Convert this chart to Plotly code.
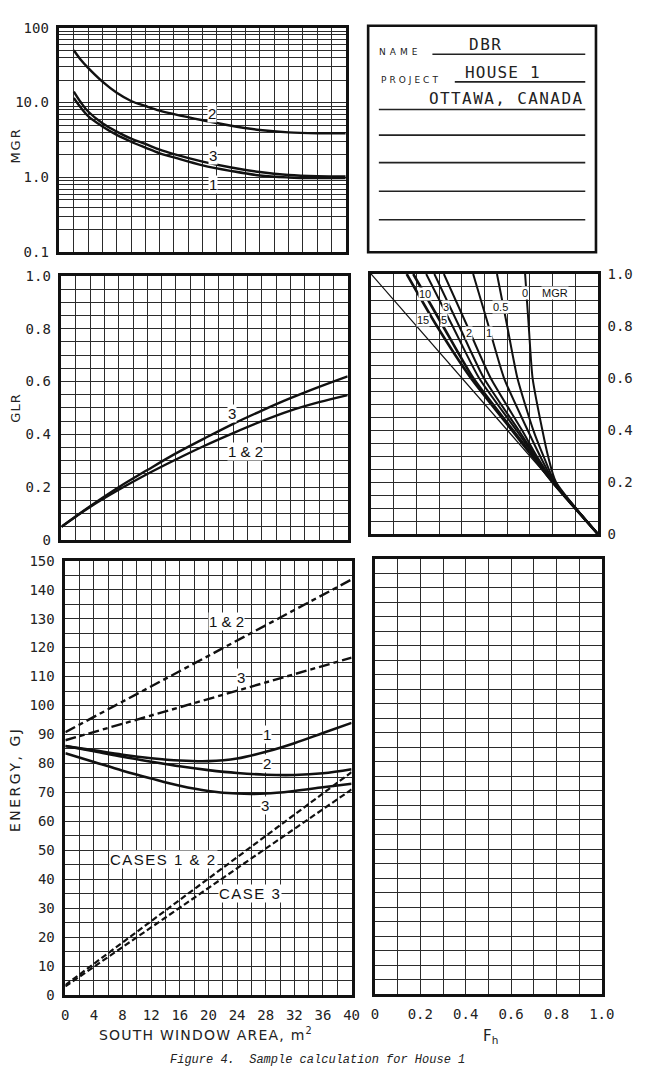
import math
import plotly.graph_objects as go

W, H = 645, 1079

# ---------------- data ----------------
# Top-left: MGR vs south window area (log scale)
area_mgr = [2, 3, 4, 6, 8, 10, 12, 14, 16, 20, 24, 28, 32, 36, 40]
mgr_case2 = [50, 37, 29, 19, 13.5, 10.5, 9.0, 7.8, 7.0, 5.8, 4.9, 4.3, 4.0, 3.9, 3.9]
mgr_case3 = [14, 10, 7.6, 5.3, 4.1, 3.3, 2.8, 2.35, 2.05, 1.63, 1.36, 1.18, 1.08, 1.04, 1.03]
mgr_case1 = [11.5, 8.5, 6.6, 4.8, 3.7, 3.0, 2.5, 2.1, 1.85, 1.45, 1.22, 1.06, 1.0, 0.98, 0.98]

# Middle-left: GLR vs south window area
area_glr = [0, 4, 8, 12, 16, 20, 24, 28, 32, 36, 40]
glr_case3 = [0.05, 0.128, 0.20, 0.265, 0.328, 0.385, 0.44, 0.49, 0.537, 0.58, 0.62]
glr_case12 = [0.05, 0.125, 0.19, 0.25, 0.305, 0.357, 0.405, 0.45, 0.49, 0.522, 0.549]

# Middle-right: Fh vs GLR for several MGR values
glr_levels = [1.0, 0.8, 0.6, 0.4, 0.3, 0.2, 0.0]
fh_by_mgr = {
    "15": [0.157, 0.29, 0.44, 0.62, 0.71, 0.80, 1.0],
    "10": [0.186, 0.317, 0.45, 0.625, 0.712, 0.80, 1.0],
    "5": [0.243, 0.359, 0.476, 0.64, 0.72, 0.802, 1.0],
    "3": [0.279, 0.388, 0.497, 0.65, 0.725, 0.803, 1.0],
    "2": [0.321, 0.424, 0.527, 0.665, 0.73, 0.805, 1.0],
    "1": [0.45, 0.518, 0.586, 0.69, 0.745, 0.807, 1.0],
    "0.5": [0.555, 0.60, 0.645, 0.715, 0.76, 0.81, 1.0],
    "0": [0.679, 0.695, 0.712, 0.755, 0.78, 0.815, 1.0],
}
diag_fh = [0.0, 1.0]
diag_glr = [1.0, 0.0]

# Bottom-left: energy vs south window area
area_e = [0, 4, 8, 12, 16, 20, 24, 28, 32, 36, 40]
energy_case1 = [86, 84.5, 83, 81.8, 81, 80.8, 81.7, 84, 87, 90.5, 94]
energy_case2 = [86, 84.2, 82.3, 80.6, 79, 77.7, 76.7, 76.1, 76, 76.6, 78]
energy_case3 = [83.5, 80.5, 77.5, 74.8, 72.3, 70.5, 69.6, 69.6, 70.5, 71.8, 73]
area_ends = [0, 40]
energy_nomass_12 = [90.8, 143.5]
energy_nomass_3 = [88, 116.5]
solar_cases_12 = [3.5, 77]
solar_case3 = [3.0, 71]

tick_glr = [0, 0.2, 0.4, 0.6, 0.8, 1.0]
tick_glr_text = ["0", "0.2", "0.4", "0.6", "0.8", "1.0"]
tick_mgr = [0.1, 1, 10, 100]
tick_mgr_text = ["0.1", "1.0", "10.0", "100"]

# ---------------- styling helpers ----------------
GRID = "#2b2b2b"
INK = "#111111"
TICKFONT = dict(family="DejaVu Sans Mono", size=14, color="#222")
LABFONT = dict(family="Liberation Sans", size=15, color=INK)


def px_x(p):
    return p / W


def px_y(p):
    return 1 - p / H


def ls(text, sp):
    return '<span style="letter-spacing:%.1fpx">%s</span>' % (sp, text)


base = dict(showgrid=True, gridcolor=GRID, gridwidth=1.2, zeroline=False,
            showline=True, linecolor=INK, linewidth=2.6, mirror=True,
            ticks="", tickfont=TICKFONT, ticklabelstandoff=5, fixedrange=True)

fig = go.Figure()

# top-left MGR
for yv in (mgr_case2, mgr_case3, mgr_case1):
    fig.add_trace(go.Scatter(x=area_mgr, y=yv, mode="lines", xaxis="x", yaxis="y",
                             line=dict(color=INK, width=2.4, shape="spline")))
# mid-left GLR
for yv in (glr_case3, glr_case12):
    fig.add_trace(go.Scatter(x=area_glr, y=yv, mode="lines", xaxis="x2", yaxis="y2",
                             line=dict(color=INK, width=2.4, shape="spline")))
# mid-right Fh fan
fig.add_trace(go.Scatter(x=diag_fh, y=diag_glr, mode="lines", xaxis="x4", yaxis="y4",
                         line=dict(color=INK, width=1.2)))
for k, fh in fh_by_mgr.items():
    w = 2.6 if k in ("15", "10") else 2.0
    fig.add_trace(go.Scatter(x=fh, y=glr_levels, mode="lines", xaxis="x4", yaxis="y4",
                             line=dict(color=INK, width=w, shape="spline", smoothing=0.6)))
# bottom-left energy
for yv in (energy_case1, energy_case2, energy_case3):
    fig.add_trace(go.Scatter(x=area_e, y=yv, mode="lines", xaxis="x3", yaxis="y3",
                             line=dict(color=INK, width=2.6, shape="spline")))
for yv in (energy_nomass_12, energy_nomass_3):
    fig.add_trace(go.Scatter(x=area_ends, y=yv, mode="lines", xaxis="x3", yaxis="y3",
                             line=dict(color=INK, width=2.4, dash="11px,4px,5px,4px")))
for yv in (solar_cases_12, solar_case3):
    fig.add_trace(go.Scatter(x=area_ends, y=yv, mode="lines", xaxis="x3", yaxis="y3",
                             line=dict(color=INK, width=2.2, dash="6px,3px")))
# empty trace so the blank bottom-right grid gets drawn
fig.add_trace(go.Scatter(x=[], y=[], mode="lines", xaxis="x5", yaxis="y5", hoverinfo="skip"))

log_minor = [v * m for m in (0.1, 1, 10) for v in range(2, 10)]
minor_grid = dict(showgrid=True, gridcolor=GRID, gridwidth=1.2)

fig.update_layout(
    width=W, height=H, margin=dict(l=0, r=0, t=0, b=0),
    paper_bgcolor="white", plot_bgcolor="white", showlegend=False,
    xaxis=dict(base, domain=[px_x(57), px_x(351)], range=[0, 40], dtick=2,
               showticklabels=False, anchor="y"),
    yaxis=dict(base, domain=[px_y(248), px_y(20)], type="log", range=[-1, 2],
               tickvals=tick_mgr, ticktext=tick_mgr_text,
               minor=dict(minor_grid, tickvals=log_minor, gridwidth=1.1),
               anchor="x"),
    xaxis2=dict(base, domain=[px_x(59), px_x(353)], range=[0, 40], dtick=2,
                showticklabels=False, anchor="y2"),
    yaxis2=dict(base, domain=[px_y(540), px_y(272)], range=[0, 1],
                tickvals=tick_glr, ticktext=tick_glr_text,
                minor=dict(minor_grid, dtick=0.05), anchor="x2"),
    xaxis3=dict(base, domain=[px_x(63), px_x(357)], range=[0, 40],
                tickvals=list(range(0, 41, 4)),
                minor=dict(minor_grid, dtick=2), anchor="y3"),
    yaxis3=dict(base, domain=[px_y(1002), px_y(561)], range=[0, 150], dtick=10,
                minor=dict(minor_grid, dtick=5), anchor="x3"),
    xaxis4=dict(base, domain=[px_x(377), px_x(610)], range=[0, 1], dtick=0.1,
                showticklabels=False, anchor="y4"),
    yaxis4=dict(base, domain=[px_y(534), px_y(270)], range=[0, 1], side="right",
                tickvals=tick_glr, ticktext=tick_glr_text, ticklabelstandoff=4,
                minor=dict(minor_grid, dtick=0.05), anchor="x4"),
    xaxis5=dict(base, domain=[px_x(381), px_x(614)], range=[0, 1],
                tickvals=tick_glr, ticktext=tick_glr_text,
                minor=dict(minor_grid, dtick=0.1), anchor="y5"),
    yaxis5=dict(base, domain=[px_y(1001), px_y(559)], range=[0, 150], dtick=5,
                showticklabels=False, anchor="x5"),
)

ann = []


def lab(text, x, y, xref, yref, font=LABFONT, bg="white"):
    ann.append(dict(text=text, x=x, y=y, xref=xref, yref=yref, showarrow=False,
                    font=font, bgcolor=bg, borderpad=0, xanchor="center", yanchor="middle"))


def ptext(text, x, y, font, angle=0, xa="center", ya="middle"):
    ann.append(dict(text=text, x=px_x(x), y=px_y(y), xref="paper", yref="paper",
                    showarrow=False, font=font, textangle=angle,
                    xanchor=xa, yanchor=ya))


# MGR labels (log axis: annotation positions in log10 units)
lab("2", 21.3, math.log10(7.1), "x", "y")
lab("3", 21.5, math.log10(1.96), "x", "y")
lab("1", 21.5, math.log10(0.80), "x", "y")
# GLR labels
lab("3", 23.9, 0.48, "x2", "y2")
lab("1 &amp; 2", 25.7, 0.337, "x2", "y2")
# energy labels
lab("1 &amp; 2", 22.5, 129, "x3", "y3")
lab("3", 24.5, 109.5, "x3", "y3")
lab("1", 28.2, 90, "x3", "y3")
lab("2", 28.2, 80, "x3", "y3")
lab("3", 27.9, 65.5, "x3", "y3")
lab(ls("CASES 1 &amp; 2", 1.5), 13.7, 47, "x3", "y3")
lab(ls("CASE 3", 1.5), 25.8, 35, "x3", "y3")
# Fh fan labels
small = dict(family="Liberation Sans", size=11, color=INK)
for t, x, y in [("10", 0.236, 0.924), ("3", 0.329, 0.874), ("15", 0.229, 0.823),
                ("5", 0.321, 0.823), ("2", 0.43, 0.773), ("1", 0.519, 0.773),
                ("0.5", 0.571, 0.874), ("0", 0.679, 0.928), ("MGR", 0.81, 0.928)]:
    lab(t, x, y, "x4", "y4", font=small)

# axis titles and caption
title_font = dict(family="DejaVu Sans", size=14, color="#222")
ptext(ls("MGR", 2), 12, 140, dict(title_font, size=13), angle=-90)
ptext(ls("GLR", 1), 12, 406, dict(title_font, size=13), angle=-90)
ptext(ls("ENERGY, GJ", 2.5), 12, 783, title_font, angle=-90)
ptext(ls("SOUTH WINDOW AREA, m", 1.2) + "<sup>2</sup>", 207, 1053, title_font, ya="bottom")
ptext("F<sub>h</sub>", 500, 1032, dict(title_font, size=15), ya="top")
ptext("Figure 4.  Sample calculation for House 1", 322, 1068,
      dict(family="Liberation Mono", size=12, color="#222", style="italic"))

# name box text
boxfont = dict(family="DejaVu Sans Mono", size=16, color="#222")
smallcap = dict(family="DejaVu Sans", size=9, color="#222")
ptext(ls("NAME", 4), 383, 45, smallcap, xa="left")
ptext(ls("PROJECT", 3), 385, 73, smallcap, xa="left")
ptext(ls("DBR", 1.5), 495, 37, boxfont)
ptext(ls("HOUSE 1", 1.2), 512, 65, boxfont)
ptext(ls("OTTAWA, CANADA", 1.4), 516, 92, boxfont)

shapes = [dict(type="rect", xref="paper", yref="paper", x0=px_x(374), x1=px_x(608),
               y0=px_y(248), y1=px_y(18), line=dict(color=INK, width=2.6))]
for x0, x1, yy in [(440, 597, 47), (463, 597, 75), (385, 597, 103), (385, 597, 129),
                   (385, 597, 157), (385, 597, 186), (385, 597, 215)]:
    shapes.append(dict(type="line", xref="paper", yref="paper", x0=px_x(x0), x1=px_x(x1),
                       y0=px_y(yy), y1=px_y(yy), line=dict(color="#222", width=1.6)))

fig.update_layout(annotations=ann, shapes=shapes)
fig.write_html("out.html")
